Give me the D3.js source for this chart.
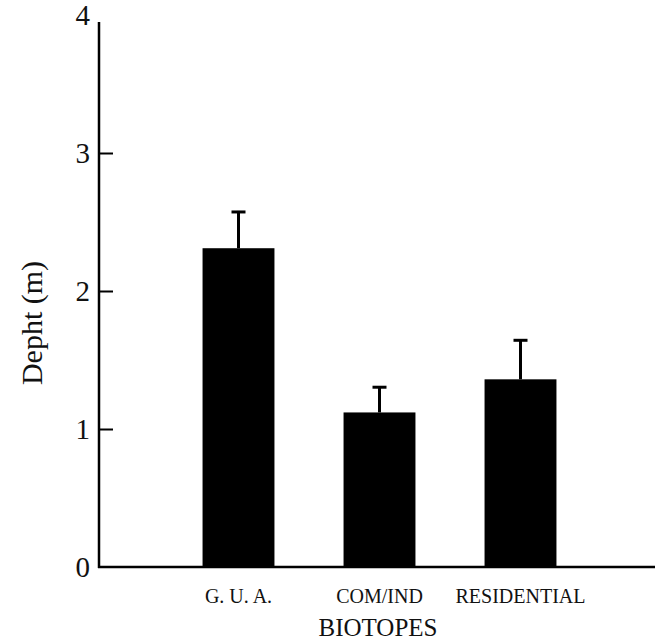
<!DOCTYPE html>
<html>
<head>
<meta charset="utf-8">
<script src="https://cdn.jsdelivr.net/npm/d3@7"></script>
<style>
  body { margin: 0; background: #fff; }
  text { font-family: "Liberation Serif", "Times New Roman", serif; fill: #111; }
</style>
</head>
<body>
<script>
const biotopes = ["G. U. A.", "COM/IND", "RESIDENTIAL"];
const depth = [2.31, 1.12, 1.36];
const errTop = [2.58, 1.31, 1.65];
const yTicks = [0, 1, 2, 3, 4];

const svgWidth = 655;
const svgHeight = 643;

const svg = d3.select("body")
    .append("svg")
    .attr("width", svgWidth)
    .attr("height", svgHeight);

const x = d3.scaleBand()
    .domain(biotopes)
    .range([168, 591])
    .paddingInner(0.49)
    .paddingOuter(0.245);

const y = d3.scaleLinear()
    .domain([0, 4])
    .range([567, 15]);

// bars
svg.selectAll(".bar")
    .data(biotopes)
    .enter()
    .append("rect")
    .attr("class", "bar")
    .attr("x", d => x(d))
    .attr("y", (d, i) => y(depth[i]))
    .attr("width", x.bandwidth())
    .attr("height", (d, i) => y(0) - y(depth[i]))
    .attr("fill", "#000");

// error bars (upper only)
const err = svg.selectAll(".err")
    .data(biotopes)
    .enter()
    .append("g")
    .attr("class", "err");

err.append("line")
    .attr("x1", d => x(d) + x.bandwidth() / 2)
    .attr("x2", d => x(d) + x.bandwidth() / 2)
    .attr("y1", (d, i) => y(depth[i]))
    .attr("y2", (d, i) => y(errTop[i]))
    .attr("stroke", "#000")
    .attr("stroke-width", 3);

err.append("line")
    .attr("x1", d => x(d) + x.bandwidth() / 2 - 7)
    .attr("x2", d => x(d) + x.bandwidth() / 2 + 7)
    .attr("y1", (d, i) => y(errTop[i]) + 1)
    .attr("y2", (d, i) => y(errTop[i]) + 1)
    .attr("stroke", "#000")
    .attr("stroke-width", 3);

// y axis, ticks pointing inward
const yAxis = svg.append("g")
    .attr("transform", "translate(99,0)")
    .call(d3.axisRight(y).tickValues(yTicks).tickSize(14).tickSizeOuter(0).tickFormat(d3.format("d")));

yAxis.select(".domain").remove();
yAxis.selectAll(".tick line")
    .attr("stroke", "#000")
    .attr("stroke-width", 2)
    .attr("display", d => (d === 0 || d === 4) ? "none" : null);
yAxis.selectAll(".tick text")
    .attr("x", -9)
    .attr("dy", "0.34em")
    .attr("text-anchor", "end")
    .style("font-size", "29px");

svg.append("line")
    .attr("x1", 99).attr("x2", 99)
    .attr("y1", y(0) + 1)
    .attr("y2", y(4) + 7)
    .attr("stroke", "#000")
    .attr("stroke-width", 2.5);

// x axis line
svg.append("line")
    .attr("x1", 98).attr("x2", svgWidth)
    .attr("y1", y(0)).attr("y2", y(0))
    .attr("stroke", "#000")
    .attr("stroke-width", 2.5);

// category labels
svg.selectAll(".cat")
    .data(biotopes)
    .enter()
    .append("text")
    .attr("class", "cat")
    .attr("x", d => x(d) + x.bandwidth() / 2)
    .attr("y", 603)
    .attr("text-anchor", "middle")
    .style("font-size", "20px")
    .text(d => d);

svg.append("text")
    .attr("x", 378)
    .attr("y", 636)
    .attr("text-anchor", "middle")
    .style("font-size", "25px")
    .text("BIOTOPES");

svg.append("text")
    .attr("transform", "translate(42,323) rotate(-90)")
    .attr("text-anchor", "middle")
    .style("font-size", "30px")
    .text("Depht (m)");
</script>
</body>
</html>
